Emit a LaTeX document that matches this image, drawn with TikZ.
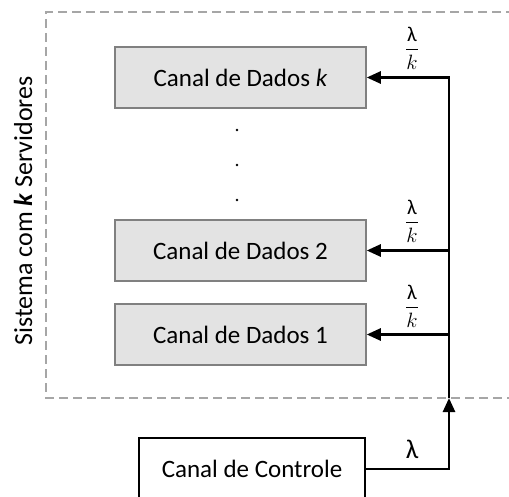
\documentclass[tikz,border=0pt]{standalone}
\usepackage{amsmath}
\usepackage{fontspec}
\setmainfont{Carlito}
\usepackage{tikz}
\usetikzlibrary{arrows.meta}
\tikzset{databox/.style = {draw=black!50, fill=black!11, line width=1.5pt,
                           minimum width=251pt, minimum height=61pt,
                           font=\fontsize{25}{29}\selectfont}}
\tikzset{ctrlbox/.style = {draw=black, line width=1.3pt,
                           minimum width=226pt, minimum height=62pt,
                           font=\fontsize{25}{29}\selectfont}}
\tikzset{frame/.style = {draw=black!35, line width=1.5pt, dash pattern=on 9pt off 5pt}}
\tikzset{bus/.style = {line width=2.6pt, -{Triangle[length=14pt, width=12pt]}}}
\tikzset{rate/.style = {font=\fontsize{21}{25}\selectfont, inner sep=0pt}}

\begin{document}
\begin{tikzpicture}[x=1pt, y=-1pt]
        \useasboundingbox (0, 0) rectangle (509, 497);

        \draw [frame] (515, 12) -| (46, 398) -- (515, 398);
        \node [rotate=90, font=\fontsize{26}{30}\selectfont] (sys) at (23, 211)
              {Sistema com \textbf{\textit{k}} Servidores};

        \node [databox] (Dk) at (240.5,  77.5) {Canal de Dados \textit{k}};
        \node [databox] (D2) at (240.5, 250.5) {Canal de Dados 2};
        \node [databox] (D1) at (240.5, 334.5) {Canal de Dados 1};

        \foreach \y in {130, 165, 200}
            \fill (237, \y) circle (1.3pt);

        \node [ctrlbox] (C) at (252, 469) {Canal de Controle};

        \coordinate (in) at (449, 398);

        \draw [bus] (C.east) -| (in);
        \draw [bus] (in) |- (Dk.east);
        \draw [bus] (in |- D2.east) -- (D2.east);
        \draw [bus] (in |- D1.east) -- (D1.east);

        \node [rate] (Rk) at (412,  48) {$\dfrac{\text{λ}}{k}$};
        \node [rate] (R2) at (412, 221) {$\dfrac{\text{λ}}{k}$};
        \node [rate] (R1) at (412, 306) {$\dfrac{\text{λ}}{k}$};
        \node [font=\fontsize{27}{30}\selectfont] (L) at (412, 449) {λ};
    \end{tikzpicture}
\end{document}
